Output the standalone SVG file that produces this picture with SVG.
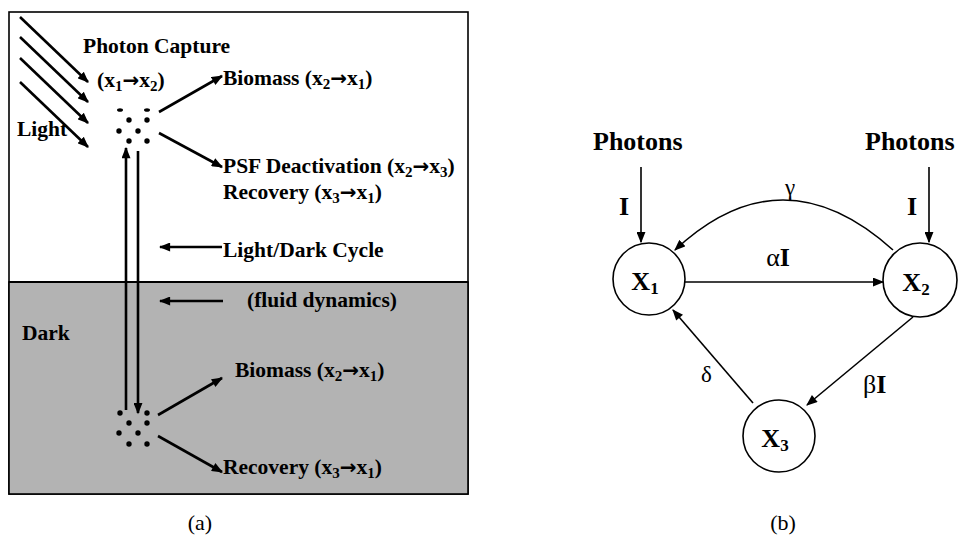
<svg xmlns="http://www.w3.org/2000/svg" width="961" height="546" viewBox="0 0 961 546">
<defs>
<style>
.t{font-family:"Liberation Serif","Times New Roman",serif;font-weight:bold;font-size:21.5px;fill:#000}
.s{font-size:15px}
.ar{font-family:"DejaVu Sans",sans-serif;font-weight:bold;font-size:20px}
.tb{font-family:"Liberation Serif","Times New Roman",serif;font-weight:bold;font-size:26px;fill:#000}
.r{font-family:"Liberation Serif","Times New Roman",serif;font-size:23px;fill:#000}
.cap{font-family:"Liberation Serif","Times New Roman",serif;font-size:22px;fill:#000}
.a{stroke:#000;stroke-width:2.6;fill:none;marker-end:url(#ha)}
.b{stroke:#000;stroke-width:1.6;fill:none;marker-end:url(#hb)}
.n{fill:#fff;stroke:#000;stroke-width:1.6}
</style>
<marker id="ha" viewBox="0 0 10 8" refX="9" refY="4" markerWidth="12" markerHeight="9" markerUnits="userSpaceOnUse" orient="auto"><path d="M0,0L10,4L0,8z" fill="#000"/></marker>
<marker id="hb" viewBox="0 0 10 8" refX="9" refY="4" markerWidth="12" markerHeight="9" markerUnits="userSpaceOnUse" orient="auto"><path d="M0,0L10,4L0,8z" fill="#000"/></marker>
</defs>
<rect width="961" height="546" fill="#fff"/>

<!-- Panel (a) -->
<g id="panel-a">
<rect x="9" y="12" width="459" height="482" fill="#fff" stroke="#000" stroke-width="1.6"/>
<rect x="9" y="282" width="459" height="212" fill="#b3b3b3" stroke="#000" stroke-width="1.6"/>
<line x1="9" y1="282" x2="468" y2="282" stroke="#000" stroke-width="2"/>
</g>

<g id="connectors-a">
<line class="a" x1="20" y1="17" x2="88" y2="82"/>
<line class="a" x1="20" y1="37" x2="88" y2="102"/>
<line class="a" x1="20" y1="58" x2="88" y2="123"/>
<line class="a" x1="20" y1="82" x2="88" y2="147"/>
<line class="a" x1="159" y1="112" x2="222" y2="76"/>
<line class="a" x1="159" y1="133" x2="222" y2="167"/>
<line class="a" x1="126" y1="410" x2="126" y2="148"/>
<line class="a" x1="138" y1="151" x2="138" y2="413"/>
<line class="a" x1="222" y1="247" x2="160" y2="247"/>
<line class="a" x1="223" y1="301" x2="160" y2="301"/>
<line class="a" x1="158" y1="415" x2="222" y2="378"/>
<line class="a" x1="158" y1="436" x2="222" y2="472"/>
</g>

<g id="cluster-top" fill="#000">
<ellipse cx="120" cy="110" rx="3" ry="1.8"/>
<ellipse cx="147" cy="110" rx="3" ry="1.8"/>
<circle cx="129" cy="120" r="2.7"/>
<circle cx="147" cy="120" r="2.7"/>
<circle cx="119" cy="131" r="2.7"/>
<circle cx="138" cy="131" r="2.7"/>
<circle cx="129" cy="141" r="2.7"/>
<circle cx="147" cy="141" r="2.7"/>
</g>
<g id="cluster-bottom" fill="#000">
<circle cx="120" cy="413" r="2.7"/>
<circle cx="147" cy="413" r="2.7"/>
<circle cx="129" cy="423" r="2.7"/>
<circle cx="147" cy="423" r="2.7"/>
<circle cx="119" cy="433" r="2.7"/>
<circle cx="138" cy="433" r="2.7"/>
<circle cx="129" cy="444" r="2.7"/>
<circle cx="147" cy="444" r="2.7"/>
</g>

<g id="labels-a">
<text class="t" x="83" y="53">Photon Capture</text>
<text class="t" x="97" y="87">(x<tspan class="s" dy="4">1</tspan><tspan class="ar" dy="-4">→</tspan>x<tspan class="s" dy="4">2</tspan><tspan dy="-4">)</tspan></text>
<text class="t" x="17" y="136">Light</text>
<text class="t" x="223" y="85">Biomass (x<tspan class="s" dy="4">2</tspan><tspan class="ar" dy="-4">→</tspan>x<tspan class="s" dy="4">1</tspan><tspan dy="-4">)</tspan></text>
<text class="t" x="223" y="173">PSF Deactivation (x<tspan class="s" dy="4">2</tspan><tspan class="ar" dy="-4">→</tspan>x<tspan class="s" dy="4">3</tspan><tspan dy="-4">)</tspan></text>
<text class="t" x="223" y="199">Recovery (x<tspan class="s" dy="4">3</tspan><tspan class="ar" dy="-4">→</tspan>x<tspan class="s" dy="4">1</tspan><tspan dy="-4">)</tspan></text>
<text class="t" x="223" y="257">Light/Dark Cycle</text>
<text class="t" x="247" y="307">(fluid dynamics)</text>
<text class="t" x="22" y="340">Dark</text>
<text class="t" x="235" y="377">Biomass (x<tspan class="s" dy="4">2</tspan><tspan class="ar" dy="-4">→</tspan>x<tspan class="s" dy="4">1</tspan><tspan dy="-4">)</tspan></text>
<text class="t" x="223" y="474">Recovery (x<tspan class="s" dy="4">3</tspan><tspan class="ar" dy="-4">→</tspan>x<tspan class="s" dy="4">1</tspan><tspan dy="-4">)</tspan></text>
<text class="cap" x="200" y="530" text-anchor="middle">(a)</text>
</g>

<!-- Panel (b) -->
<g id="connectors-b">
<line class="b" x1="641" y1="167" x2="641" y2="242"/>
<line class="b" x1="929" y1="167" x2="929" y2="242"/>
<line class="b" x1="685" y1="282" x2="883" y2="282"/>
<path class="b" d="M893,250 Q782,150 675,250"/>
<line class="b" x1="913" y1="317" x2="807" y2="405"/>
<line class="b" x1="753" y1="403" x2="673" y2="310"/>
</g>

<g id="X1"><circle class="n" cx="649" cy="279" r="36"/><text class="tb" x="645" y="290" text-anchor="middle">X<tspan font-size="17" dy="4">1</tspan></text></g>
<g id="X2"><circle class="n" cx="920" cy="280" r="37"/><text class="tb" x="916" y="291" text-anchor="middle">X<tspan font-size="17" dy="4">2</tspan></text></g>
<g id="X3"><circle class="n" cx="779" cy="436" r="36"/><text class="tb" x="775" y="447" text-anchor="middle">X<tspan font-size="17" dy="4">3</tspan></text></g>

<g id="labels-b">
<text class="tb" x="593" y="150">Photons</text>
<text class="tb" x="865" y="150">Photons</text>
<text class="tb" x="619" y="215" font-size="24">I</text>
<text class="tb" x="907" y="215" font-size="24">I</text>
<text class="r" x="790" y="195" text-anchor="middle">γ</text>
<text class="tb" x="778" y="266" text-anchor="middle" font-size="24"><tspan font-weight="normal">α</tspan>I</text>
<text class="tb" x="863" y="393" font-size="24"><tspan font-weight="normal">β</tspan>I</text>
<text class="r" x="701" y="382">δ</text>
<text class="cap" x="783" y="530" text-anchor="middle">(b)</text>
</g>
</svg>
